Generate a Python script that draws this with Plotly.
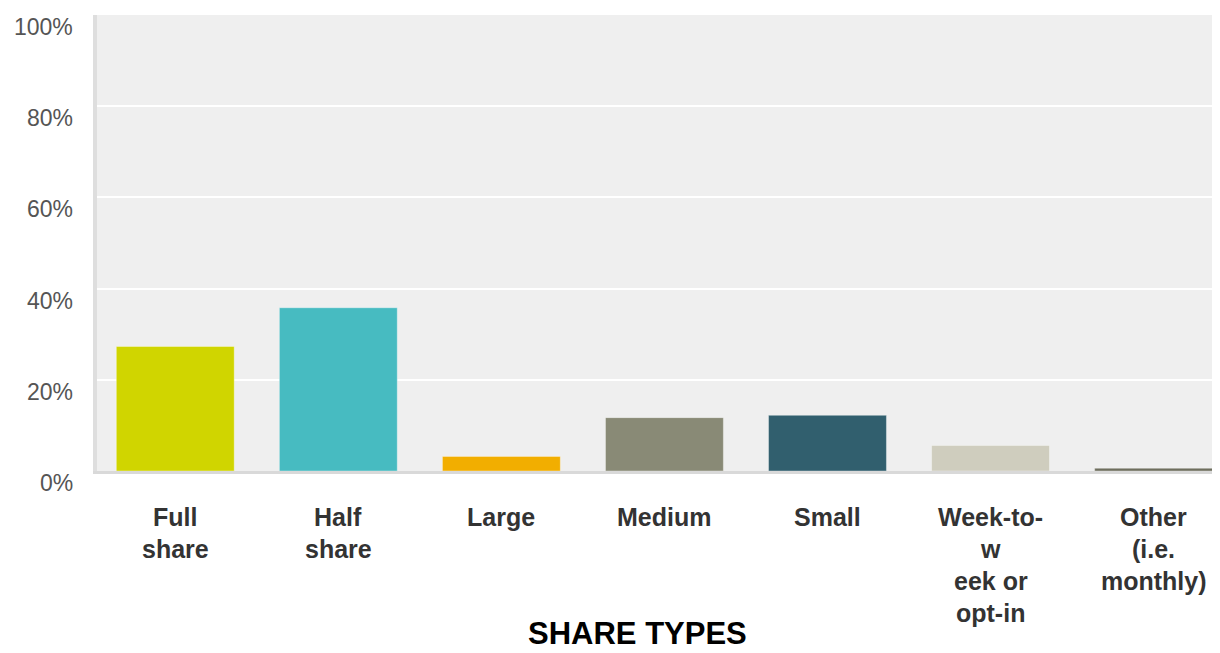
import plotly.graph_objects as go

categories = ["Full<br>share", "Half<br>share", "Large", "Medium", "Small",
              "Week-to-<br>w<br>eek or<br>opt-in", "Other<br>(i.e.<br>monthly)"]
values = [27.3, 35.8, 3.2, 11.7, 12.2, 5.6, 0.6]
colors = ["#d0d500", "#47bbc1", "#f2ae00", "#898a76", "#315f6e", "#cfcdbe", "#6e6e5e"]
y_ticks = [0, 20, 40, 60, 80, 100]
y_tick_labels = ["0%", "20%", "40%", "60%", "80%", "100%"]
x_title = "SHARE TYPES"

idx = list(range(len(categories)))

# the page body has an 8px margin, so the figure is sized/offset to compensate
W, H = 1212, 645
L, R, T, B = 89, 2, 7, 182

fig = go.Figure()
fig.add_trace(go.Bar(
    x=idx, y=values,
    marker=dict(color=colors, line=dict(color="rgba(255,255,255,0.35)", width=1)),
    width=0.723,
    hoverinfo="skip",
))

annotations = []
for v, lab in zip(y_ticks, y_tick_labels):
    annotations.append(dict(
        x=0, xref="paper", xanchor="right", xshift=-22,
        y=v, yref="y", yanchor="middle", yshift=-12,
        text=lab, showarrow=False,
        font=dict(family="Liberation Sans, Arial, sans-serif", size=23, color="#555555"),
    ))
for i, cat in enumerate(categories):
    for j, line in enumerate(cat.split("<br>")):
        annotations.append(dict(
            x=i, xref="x", xanchor="center",
            y=0, yref="paper", yanchor="middle", yshift=-(46 + 32 * j),
            text="<b>" + line + "</b>", showarrow=False,
            font=dict(family="Liberation Sans, Arial, sans-serif", size=25, color="#333333"),
        ))
plot_w = W - L - R
annotations.append(dict(
    x=(637 - 8 - L) / plot_w, xref="paper", xanchor="center",
    y=0, yref="paper", yanchor="bottom", yshift=-(652 - 471),
    text="<b>" + x_title + "</b>", showarrow=False, borderpad=0,
    font=dict(family="Liberation Sans, Arial, sans-serif", size=31, color="#000000"),
))

fig.update_layout(
    width=W, height=H,
    margin=dict(l=L, r=R, t=T, b=B),
    paper_bgcolor="#ffffff",
    plot_bgcolor="#efefef",
    showlegend=False,
    xaxis=dict(
        range=[-0.48, 6.395],
        showgrid=False, zeroline=False,
        showticklabels=False, ticks="",
        showline=True, linecolor="#d9d9d9", linewidth=3,
        fixedrange=True,
    ),
    yaxis=dict(
        range=[0, 100],
        tickvals=y_ticks,
        showticklabels=False, ticks="",
        showgrid=True, gridcolor="#ffffff", gridwidth=2,
        zeroline=False,
        showline=True, linecolor="#dedede", linewidth=4,
        fixedrange=True,
    ),
    annotations=annotations,
)

fig.write_html("out.html")
